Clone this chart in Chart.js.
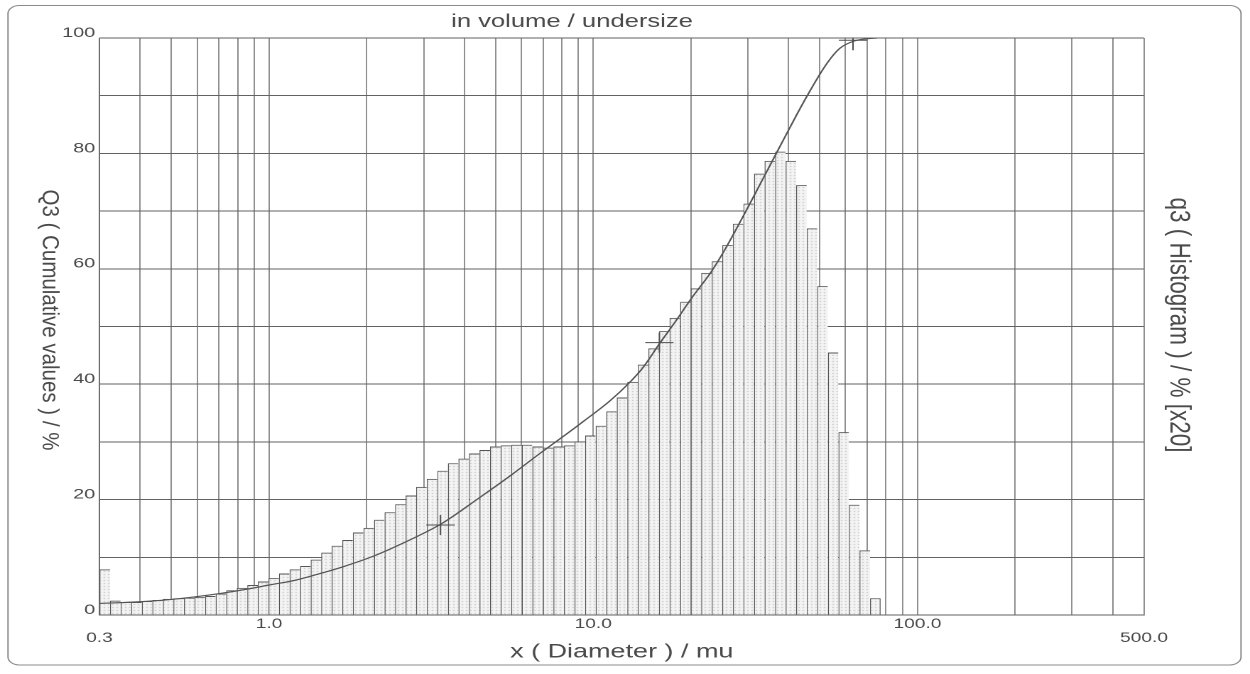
<!DOCTYPE html>
<html>
<head>
<meta charset="utf-8">
<title>in volume / undersize</title>
<script src="https://cdn.jsdelivr.net/npm/chart.js@4.4.0/dist/chart.umd.min.js"></script>
<style>
  html, body { margin: 0; padding: 0; background: #fff; }
  #chart { display: block; }
</style>
</head>
<body>
<canvas id="chart" width="880" height="674" style="width:1250px;height:674px"></canvas>
<script>
// q3 histogram (x20), one value per size class, classes run from 0.3 to 77 mu
const histValues = [
  7.9, 2.5, 2.25, 2.25, 2.4, 2.6, 2.8, 2.9, 3.0, 3.1,
  3.3, 3.7, 4.3, 4.7, 5.2, 5.8, 6.4, 7.2, 7.9, 8.5,
  9.6, 10.8, 12.0, 13.0, 14.3, 15.1, 16.5, 17.8, 19.2, 20.7,
  22.2, 23.6, 25.0, 26.3, 27.1, 28.0, 28.6, 29.2, 29.4, 29.5,
  29.5, 29.2, 29.0, 29.2, 29.4, 30.1, 31.1, 32.8, 35.3, 37.7,
  40.4, 43.4, 46.2, 49.2, 51.5, 54.3, 56.6, 59.3, 61.3, 64.1,
  67.8, 71.3, 76.5, 78.7, 80.3, 78.7, 74.5, 67.0, 57.0, 45.5,
  31.7, 19.1, 11.2, 2.9
];
const histFrom = 0.3;
const histTo = 77;

// Q3 cumulative curve
const cumX = [0.3, 0.4, 0.5, 0.6, 0.7, 0.8, 0.9, 1.0, 1.2, 1.4,
  1.7, 2.1, 2.6, 3.4, 4.45, 5.6, 7.0, 8.2, 9.4, 11.2,
  12.9, 14.2, 16.0, 17.9, 20.1, 23.2, 25.4, 30.1, 34.7, 38.9,
  45.3, 52.6, 57.6, 64.0, 71.0, 75.0];
const cumY = [2.0, 2.3, 2.7, 3.2, 3.7, 4.2, 4.7, 5.2, 6.0, 7.0,
  8.4, 10.2, 12.5, 15.8, 20.3, 24.3, 28.4, 31.2, 33.7, 37.0,
  40.2, 42.8, 47.0, 50.8, 54.9, 59.6, 63.2, 70.8, 77.4, 82.7,
  89.6, 95.6, 98.2, 99.5, 99.9, 100];

// crosses on the curve
const markX = [3.38, 16.0, 63.3];
const markY = [15.6, 47.2, 99.6];

// axes
const xGrid = [0.3, 0.4, 0.5, 0.6, 0.7, 0.8, 0.9, 1, 2, 3, 4, 5, 6, 7, 8, 9,
  10, 20, 30, 40, 50, 60, 70, 80, 90, 100, 200, 300, 400, 500];
const xLabels = { 0.3: '0.3', 1: '1.0', 10: '10.0', 100: '100.0', 500: '500.0' };
const xLabelsLow = [0.3, 500];
const yLabels = [0, 20, 40, 60, 80, 100];

const SX = 1250 / 880; // canvas is drawn narrow and stretched wide, like the scan
const family = "'Liberation Sans', Arial, sans-serif";
const textColor = '#4a4a4a';
const gridColor = '#626262';

const canvas = document.getElementById('chart');
const ctx = canvas.getContext('2d');

// light dotted fill of the bars
function stipple() {
  const c = document.createElement('canvas');
  c.width = 3; c.height = 3;
  const g = c.getContext('2d');
  g.fillStyle = '#f4f4f4';
  g.fillRect(0, 0, 3, 3);
  g.fillStyle = '#bcbcbc';
  g.fillRect(1, 1, 1, 1);
  return ctx.createPattern(c, 'repeat');
}

const step = Math.log10(histTo / histFrom) / histValues.length;
const histData = histValues.map((v, i) => ({ x: histFrom * Math.pow(10, (i + 0.5) * step), y: v }));
const cumData = cumX.map((x, i) => ({ x: x, y: cumY[i] }));
const markData = markX.map((x, i) => ({ x: x, y: markY[i] }));

function drawRotated(c, text, x, y, size, kx) {
  c.save();
  c.translate(x / SX, y);
  c.scale(kx, 1);
  c.rotate(Math.PI / 2);
  c.font = size + 'px ' + family;
  c.fillStyle = textColor;
  c.textAlign = 'center';
  c.textBaseline = 'middle';
  c.fillText(text, 0, 0);
  c.restore();
}

const decor = {
  id: 'decor',
  beforeDraw(chart) {
    const c = chart.ctx;
    c.save();
    c.fillStyle = '#fff';
    c.fillRect(0, 0, chart.width, chart.height);
    c.strokeStyle = '#8c8c8c';
    c.lineWidth = 1;
    c.beginPath();
    c.roundRect(8 / SX, 5.5, 1233 / SX, 659.5, 8);
    c.stroke();
    c.restore();
  },
  afterDraw(chart) {
    const c = chart.ctx;
    drawRotated(c, 'Q3 ( Cumulative values ) / %', 49, 320, 20.5, 1.15 / SX);
    drawRotated(c, 'q3 ( Histogram ) / % [x20]', 1178, 325, 22.5, 1.26 / SX);
  }
};

new Chart(ctx, {
  type: 'bar',
  data: {
    datasets: [
      {
        type: 'scatter',
        data: markData,
        pointStyle: 'cross',
        pointRadius: 10,
        borderColor: '#4f4f4f',
        borderWidth: 1,
        backgroundColor: 'transparent',
        order: 0
      },
      {
        type: 'line',
        data: cumData,
        borderColor: '#555',
        borderWidth: 1.2,
        pointRadius: 0,
        cubicInterpolationMode: 'monotone',
        fill: false,
        order: 1
      },
      {
        type: 'bar',
        data: histData,
        backgroundColor: stipple(),
        borderColor: '#555',
        borderWidth: c => ({ top: 1, left: 0.75, bottom: 0, right: c.dataIndex === histValues.length - 1 ? 0.75 : 0 }),
        borderSkipped: false,
        barPercentage: 1,
        categoryPercentage: 1,
        inflateAmount: 0,
        order: 3
      }
    ]
  },
  options: {
    responsive: false,
    devicePixelRatio: 2,
    animation: false,
    events: [],
    layout: { padding: { left: 0, right: 880 - 1144 / SX, top: 0, bottom: 0 } },
    plugins: {
      legend: { display: false },
      tooltip: { enabled: false },
      title: {
        display: true,
        text: 'in volume / undersize',
        color: textColor,
        font: { family: family, size: 18, weight: 'normal' },
        padding: { top: 11, bottom: 5.4 }
      }
    },
    scales: {
      x: {
        type: 'logarithmic',
        min: 0.3,
        max: 500,
        offset: false,
        afterBuildTicks: s => { s.ticks = xGrid.map(v => ({ value: v })); },
        afterFit: s => { s.height = 59; },
        grid: { color: gridColor, lineWidth: 0.7, drawTicks: false, offset: false },
        border: { display: true, color: gridColor, width: 1 },
        ticks: {
          autoSkip: false,
          maxRotation: 0,
          minRotation: 0,
          padding: 2,
          color: textColor,
          font: { family: family, size: 13.5, lineHeight: 1.05 },
          callback: v => {
            const t = xLabels[v];
            if (!t) return '';
            return xLabelsLow.includes(v) ? ['', t] : t;
          }
        },
        title: {
          display: true,
          text: 'x ( Diameter ) / mu',
          color: textColor,
          font: { family: family, size: 19 },
          padding: { top: 0, bottom: 10.5 }
        }
      },
      y: {
        position: 'left',
        min: 0,
        max: 100,
        afterFit: s => { s.width = 99.5 / SX; },
        grid: { color: gridColor, lineWidth: 1, drawTicks: false },
        border: { display: true, color: gridColor, width: 0.75 },
        ticks: {
          stepSize: 10,
          padding: 3,
          labelOffset: -5,
          color: textColor,
          font: { family: family, size: 14 },
          callback: v => yLabels.includes(v) ? String(v) : ''
        }
      }
    }
  },
  plugins: [decor]
});
</script>
</body>
</html>
